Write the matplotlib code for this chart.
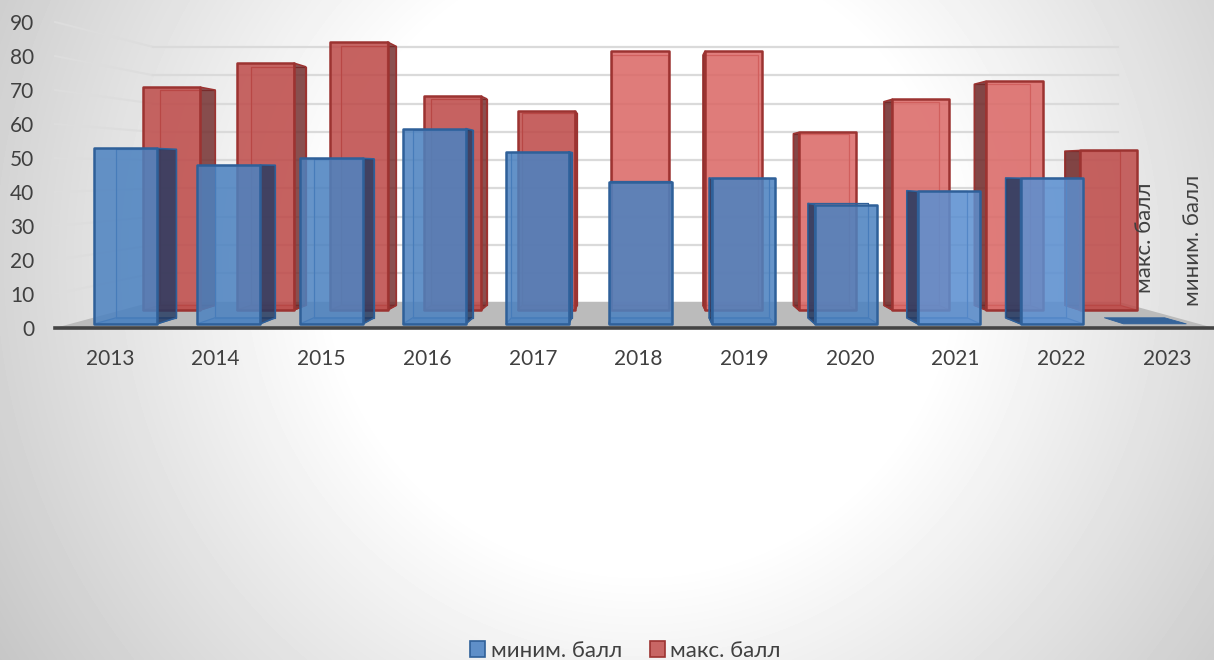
# coding=utf-8
import numpy as np
import matplotlib
matplotlib.use("Agg")
import matplotlib.pyplot as plt
from matplotlib.colors import to_rgba
from matplotlib.patches import Patch, Polygon

years = ['2013', '2014', '2015', '2016', '2017', '2018', '2019', '2020', '2021', '2022', '2023']
min_ball = [53, 48, 50, 59, 52, 43, 44, 36, 40, 44, 0]
max_ball = [74, 82, 89, 71, 66, 86, 86, 59, 70, 76, 53]
y_ticks = [0, 10, 20, 30, 40, 50, 60, 70, 80, 90]

plt.rcParams['font.family'] = ['Lato', 'Open Sans', 'DejaVu Sans']

W, H = 1214, 660
TEXT = '#404040'

# perspective: s is the shrink at a given depth, points go to the vanishing point
VX, VY = 5.02, 46.2
S_WALL = 0.833
HALF = 0.305
BLUE_S = (0.9735, 0.935)
RED_S = (0.886, 0.856)
BLUE_DX = 0.017
RED_DX = 0.012


def proj(x, v, s, dx=0.0):
    return VX + (x - VX) * s + dx, VY + (v - VY) * s


def px_rect(l, t, r, b):
    return [l / W, 1 - b / H, (r - l) / W, (b - t) / H]


fig = plt.figure(figsize=(W / 100, H / 100), dpi=100)

# background
bg = fig.add_axes([0, 0, 1, 1], zorder=0)
yy, xx = np.mgrid[0:H, 0:W]
r = np.hypot(xx - 640, yy - 260)
shade = 255 - 57 * np.clip((r - 310) / 445, 0, 1.1)
bg.imshow(shade, cmap='gray', vmin=0, vmax=255, aspect='auto')
bg.axis('off')

ax = fig.add_axes(px_rect(55, 22, 1214, 328), zorder=1)
ax.patch.set_visible(False)
ax.set_xlim(-0.52, 10.445)
ax.set_ylim(0, 90)
ax.set_xticks(range(len(years)))
ax.set_xticklabels(years)
ax.set_yticks(y_ticks)
ax.tick_params(length=0, labelsize=15, labelcolor=TEXT)
ax.tick_params(axis='x', pad=15)
ax.tick_params(axis='y', pad=15)
for side in ['top', 'left', 'right']:
    ax.spines[side].set_visible(False)
ax.spines['bottom'].set_color('#444444')
ax.spines['bottom'].set_linewidth(2.6)

# floor
x0, x1 = ax.get_xlim()
floor = [proj(x0, 0, 1), proj(x1, 0, 1), proj(x1, 0, S_WALL), proj(x0, 0, S_WALL)]
ax.add_patch(Polygon(floor, facecolor='#bbbbbb', edgecolor='none', zorder=1, clip_on=False))

# gridlines on the back wall and left wall
for v in y_ticks:
    a = proj(x0, v, 1)
    b = proj(x0, v, S_WALL)
    c = proj(x1, v, S_WALL)
    if v > 0:
        ax.plot([a[0], b[0]], [a[1], b[1]], color='#dddddd', lw=1.5, zorder=1, clip_on=False)
        ax.plot([b[0], c[0]], [b[1], c[1]], color='#dadada', lw=1.6, zorder=1, clip_on=False)


def add_poly(pts, face, edge, alpha, lw, z):
    ax.add_patch(Polygon(pts, facecolor=to_rgba(face, alpha), edgecolor=edge, linewidth=lw,
                         joinstyle='round', zorder=z, clip_on=False))


def draw_bar(i, val, shrink, dx, face, edge, side, z):
    sf, sb = shrink
    l, r = i - HALF, i + HALF
    fl0, fl1 = proj(l, 0, sf, dx), proj(l, val, sf, dx)
    fr0, fr1 = proj(r, 0, sf, dx), proj(r, val, sf, dx)
    bl0, bl1 = proj(l, 0, sb, dx), proj(l, val, sb, dx)
    br0, br1 = proj(r, 0, sb, dx), proj(r, val, sb, dx)
    if val == 0:
        add_poly([fl0, fr0, br0, bl0], edge, edge, 0.95, 0.6, z)
        return
    # back face, floor, then the visible side, then the front
    add_poly([bl0, br0, br1, bl1], face, edge, 0.12, 0.9, z)
    add_poly([fl0, fr0, br0, bl0], face, edge, 0.5, 0.9, z)
    if i < 5:
        add_poly([fr0, br0, br1, fr1], side, edge, 0.8, 1.1, z)
    elif i > 5:
        add_poly([fl0, bl0, bl1, fl1], side, edge, 0.85, 1.1, z)
    add_poly([fl0, fr0, fr1, fl1], face, edge, 0.85, 1.8, z + 0.1)


for i in range(len(years)):
    red = '#db6866' if 5 <= i <= 9 else '#be4b49'
    draw_bar(i, max_ball[i], RED_S, RED_DX, red, '#9c3331', '#6f2a2a', 2 + i * 0.2)
for i in range(len(years)):
    blue = '#5b8fd0' if i >= 8 else '#4c82c0'
    draw_bar(i, min_ball[i], BLUE_S, BLUE_DX, blue, '#2f6099', '#24385f', 5 + i * 0.2)

# series names on the depth axis
fig.text(1145 / W, 1 - 238 / H, 'макс. балл', rotation=90, ha='center', va='center',
         fontsize=16, color=TEXT, zorder=3)
fig.text(1193 / W, 1 - 240 / H, 'миним. балл', rotation=90, ha='center', va='center',
         fontsize=16, color=TEXT, zorder=3)

handles = [Patch(facecolor='#5f8fc8', edgecolor='#2f6099', linewidth=1.2, label='миним. балл'),
           Patch(facecolor='#c86664', edgecolor='#9c3331', linewidth=1.2, label='макс. балл')]
leg = fig.legend(handles=handles, loc='lower center', bbox_to_anchor=(625.5 / W, -0.018), ncol=2,
                 frameon=False, fontsize=16, labelcolor=TEXT, handlelength=0.67, handleheight=0.67,
                 handletextpad=0.26, columnspacing=1.25, borderpad=0)
leg.set_zorder(3)

fig.savefig('out.png', dpi=100)
